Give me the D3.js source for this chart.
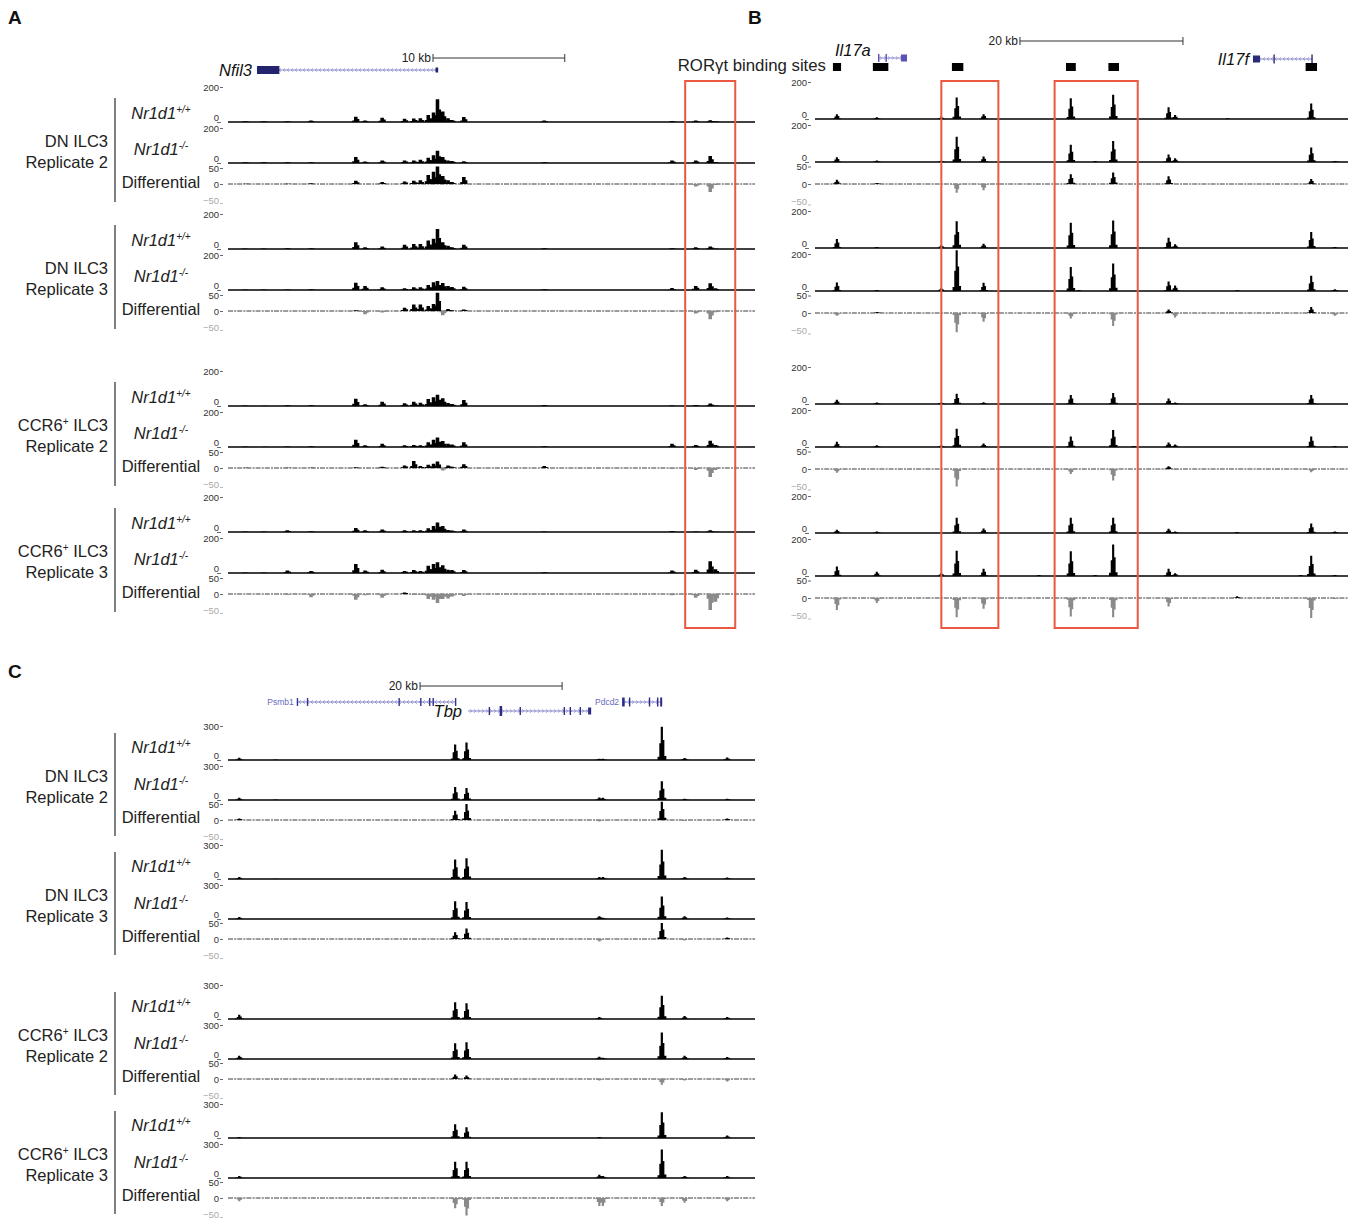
<!DOCTYPE html>
<html><head><meta charset="utf-8">
<script src="https://cdn.jsdelivr.net/npm/d3@7"></script>
<style>
body{margin:0;background:#fff}
svg{display:block}
text{font-family:"Liberation Sans",Arial,Helvetica,sans-serif}
</style>
</head><body>
<script>
// ---------------- DATA ----------------
const groupLine1 = ["DN ILC3", "DN ILC3", "CCR6+ ILC3", "CCR6+ ILC3"];
const groupLine2 = ["Replicate 2", "Replicate 3", "Replicate 2", "Replicate 3"];
const trackGenotype = ["+/+", "-/-"];
const diffLabel = "Differential";

// Panel A (Nfil3 locus): peak positions in kb
const lociA = [1.3,2.7,4.5,6.3,9.7,10.4,11.7,13.4,14.1,14.6,15.2,15.6,15.9,16.3,16.7,17.0,17.9,24.0,33.7,35.5,36.6,37.0];
const A_DN2_WT = [5,5,5,8,30,8,25,18,20,22,40,55,130,60,22,12,28,8,6,8,10,4];
const A_DN2_KO = [5,5,4,5,35,8,15,15,15,18,30,45,70,35,15,12,10,5,15,15,40,6];
const A_DN2_DF = [1,0,1,2,10,0,6,8,10,12,28,38,55,25,12,6,22,0,-2,-8,-25,-3];
const A_DN3_WT = [3,3,4,5,38,10,14,25,28,28,48,59,115,38,18,10,25,5,4,10,15,3];
const A_DN3_KO = [3,3,3,4,42,23,16,10,16,16,28,45,51,40,23,17,19,5,11,23,38,10];
const A_DN3_DF = [0,0,0,0,2,-10,-5,10,20,20,16,22,60,-13,6,2,5,0,-3,-8,-26,-4];
const A_C2_WT  = [3,2,4,4,42,10,25,16,25,18,40,50,65,45,17,12,34,6,3,6,15,3];
const A_C2_KO  = [3,2,3,4,42,10,19,10,12,10,27,42,55,35,18,15,27,4,18,12,36,12];
const A_C2_DF  = [1,0,1,1,2,0,4,8,22,6,10,13,20,-8,8,4,12,6,-3,-6,-28,-6];
const A_C3_WT  = [3,3,10,4,23,10,15,10,10,10,22,35,55,35,12,8,14,3,6,3,10,2];
const A_C3_KO  = [3,3,15,12,52,15,19,12,17,12,42,52,61,45,19,17,17,4,15,19,67,22];
const A_C3_DF  = [0,0,-3,-10,-18,-4,-12,5,-3,-2,-16,-18,-28,-16,-14,-8,-6,0,-4,-12,-50,-24];

// Panel B (Il17a / Il17f locus)
const lociB = [2.7,7.6,15.5,17.4,20.7,27.5,31.4,32.4,34.4,36.6,39.1,43.4,44.2,50.6,51.8,59.6,60.9,63.8];
const B_DN2_WT = [26,10,12,116,26,0,112,0,0,131,0,63,21,4,0,0,84,0];
const B_DN2_KO = [26,8,8,137,30,0,93,0,5,114,0,40,20,0,0,0,79,6];
const B_DN2_DF = [12,3,0,-25,-18,0,28,0,0,33,0,22,0,0,0,0,14,0];
const B_DN3_WT = [49,5,15,144,23,0,137,0,0,149,0,56,20,0,0,0,86,5];
const B_DN3_KO = [46,5,15,220,44,0,130,5,0,149,0,51,30,0,4,0,82,10];
const B_DN3_DF = [-8,3,0,-55,-25,0,-16,0,0,-37,0,10,-13,0,0,0,17,-8];
const B_C2_WT  = [23,8,10,55,10,0,49,0,0,60,0,30,8,0,0,0,49,0];
const B_C2_KO  = [28,10,10,99,19,0,57,0,0,92,5,25,13,0,0,0,57,5];
const B_C2_DF  = [-11,0,0,-50,-3,0,-14,0,0,-33,0,8,-3,0,0,0,-9,0];
const B_C3_WT  = [18,8,0,83,25,0,83,0,0,83,0,23,8,0,5,0,51,8];
const B_C3_KO  = [51,23,15,136,39,5,134,0,5,170,0,39,15,0,0,5,109,5];
const B_C3_DF  = [-34,-14,0,-55,-31,0,-53,0,0,-55,0,-24,0,0,5,0,-60,-3];
const rorgtStart = [2.2,7.1,16.8,30.8,36.0,60.2];
const rorgtEnd   = [3.2,9.0,18.2,32.0,37.3,61.6];

// Panel C (Tbp locus)
const lociC = [1.6,6.7,32.0,33.6,52.3,52.8,61.1,64.3,70.3];
const C_DN2_WT = [20,5,137,154,12,10,294,17,23];
const C_DN2_KO = [20,5,114,106,23,20,166,11,11];
const C_DN2_DF = [5,0,29,50,-5,0,60,-3,5];
const C_DN3_WT = [17,3,171,183,17,17,257,17,14];
const C_DN3_KO = [17,0,157,149,25,12,198,25,14];
const C_DN3_DF = [0,0,21,33,-8,0,50,-5,5];
const C_C2_WT  = [37,0,148,140,17,0,206,26,17];
const C_C2_KO  = [28,0,140,148,20,10,234,28,17];
const C_C2_DF  = [0,0,14,11,-5,0,-18,-5,-8];
const C_C3_WT  = [8,0,122,94,8,0,228,0,23];
const C_C3_KO  = [17,0,143,143,28,17,251,17,17];
const C_C3_DF  = [-10,0,-32,-55,-25,-25,-25,-15,-10];

// gene models (kb): transcript span and exon blocks [start, end]
const nfil3Span = [2.2,15.95];  const nfil3Exons = [[2.2,3.9],[15.75,15.95]];
const il17aSpan = [7.73,11.29]; const il17aExons = [[7.73,7.85],[8.65,8.77],[10.55,11.29]];
const il17fSpan = [53.74,61.0]; const il17fExons = [[53.74,54.6],[56.25,56.4],[60.9,61.0]];
const psmb1Span = [9.68,32.1];  const psmb1Exons = [[9.68,9.85],[11.1,11.25],[24.0,24.15],[27.05,27.2],[28.3,28.45],[28.8,28.95],[31.95,32.1]];
const tbpSpan   = [33.8,51.13]; const tbpExons   = [[36.7,36.85],[38.24,38.6],[41.05,41.2],[47.25,47.4],[48.1,48.25],[49.5,49.65],[50.7,51.13]];
const pdcd2Span = [55.49,61.13];const pdcd2Exons = [[55.49,55.85],[56.45,56.6],[59.25,59.4],[60.4,60.55],[60.85,61.13]];

// highlighted regions (kb)
const boxesA = [[34.7,38.5]];
const boxesB = [[15.5,22.5],[29.4,39.6]];

// ---------------- DRAW ----------------
const svg = d3.select("body").append("svg").attr("width",1356).attr("height",1221);

const kernelBlock = [[-1,0],[-1,0.3],[-0.5,0.3],[-0.5,1],[0.5,1],[0.5,0.55],[1,0.55],[1,0]];
const kernelSpike = [[-1,0],[-1,0.1],[-0.6,0.1],[-0.6,0.5],[-0.28,0.5],[-0.28,1],[0.22,1],[0.22,0.6],[0.55,0.6],[0.55,0.12],[1,0.12],[1,0]];

const panels = [
  {id:"A", loci:lociA, tracks:[[A_DN2_WT,A_DN2_KO,A_DN2_DF],[A_DN3_WT,A_DN3_KO,A_DN3_DF],[A_C2_WT,A_C2_KO,A_C2_DF],[A_C3_WT,A_C3_KO,A_C3_DF]],
   domain:[0,40], range:[228,755], max:200, sigH:35, diffH:16, g:[122,249,406,532], koOff:41, diffOff:62,
   halfW:0.27, kernel:kernelBlock, axisX:223,
   lab:{wt:-9,ko:27,df:60,g1:19,g2:40,b0:-24,b1:80}},
  {id:"B", loci:lociB, tracks:[[B_DN2_WT,B_DN2_KO,B_DN2_DF],[B_DN3_WT,B_DN3_KO,B_DN3_DF],[B_C2_WT,B_C2_KO,B_C2_DF],[B_C3_WT,B_C3_KO,B_C3_DF]],
   domain:[0,65.4], range:[815,1348], max:200, sigH:37, diffH:17.5, g:[119,248,404,533], koOff:43, diffOff:65,
   halfW:0.52, kernel:kernelSpike, axisX:811, lab:null},
  {id:"C", loci:lociC, tracks:[[C_DN2_WT,C_DN2_KO,C_DN2_DF],[C_DN3_WT,C_DN3_KO,C_DN3_DF],[C_C2_WT,C_C2_KO,C_C2_DF],[C_C3_WT,C_C3_KO,C_C3_DF]],
   domain:[0,74.2], range:[228,755], max:300, sigH:34, diffH:16, g:[760,879,1019,1138], koOff:40, diffOff:60,
   halfW:0.62, kernel:kernelSpike, axisX:223,
   lab:{wt:-13,ko:24,df:57,g1:16,g2:37,b0:-27,b1:76}}
];

const scales = {};

function styleAxis(ax){
  ax.select(".domain").remove();
  ax.selectAll("line").attr("stroke","#444").attr("stroke-width",0.8);
  ax.selectAll("text").attr("fill","#333").style("font-size","9.5px")
    .style("font-family",'"Liberation Sans",Arial,sans-serif');
}

panels.forEach(p => {
  const x = d3.scaleLinear().domain(p.domain).range(p.range);
  scales[p.id] = x;
  const root = svg.append("g").attr("class","panel-"+p.id);
  p.g.forEach((g0, gi) => {
    [0,1,2].forEach(ti => {
      const isDiff = ti === 2;
      const y0 = g0 + (ti===0 ? 0 : ti===1 ? p.koOff : p.diffOff);
      const vals = p.tracks[gi][ti];
      const y = isDiff
        ? d3.scaleLinear().domain([-50,50]).range([y0+p.diffH, y0-p.diffH])
        : d3.scaleLinear().domain([0,p.max]).range([y0, y0-p.sigH]);
      const lim = isDiff ? 57 : p.max*1.12;
      const tg = root.append("g");
      if (isDiff) {
        tg.append("line").attr("x1",p.range[0]).attr("x2",p.range[1]).attr("y1",y(0)).attr("y2",y(0))
          .attr("stroke","#3a3a3a").attr("stroke-width",1).attr("stroke-dasharray","5,1.2,2,1");
      }
      p.loci.forEach((loc, i) => {
        let v = vals[i];
        if (!v) return;
        v = Math.max(-lim, Math.min(lim, v));
        const pts = p.kernel.map(([dx,f]) => [x(loc+dx*p.halfW), y(v*f)]);
        tg.append("path").attr("d", d3.line()(pts)+"Z")
          .attr("fill", v < 0 ? "#8a8a8a" : "#000").attr("stroke","none");
      });
      if (!isDiff) {
        tg.append("line").attr("x1",p.range[0]).attr("x2",p.range[1]).attr("y1",y(0)).attr("y2",y(0))
          .attr("stroke","#000").attr("stroke-width",1.5);
      }
      const ax = tg.append("g").attr("transform",`translate(${p.axisX},0)`)
        .call(d3.axisLeft(y).tickValues(isDiff ? [-50,0,50] : [0,p.max]).tickSize(3).tickPadding(1).tickFormat(d3.format("d")));
      styleAxis(ax);
      if (isDiff) {
        ax.selectAll(".tick").filter(d => d === -50).selectAll("text").attr("fill","#aaa");
        ax.selectAll(".tick").filter(d => d === -50).select("line").attr("stroke","#aaa").attr("transform","translate(0,3)");
      } else {
        ax.selectAll(".tick").filter(d => d === 0).select("text").attr("dy","-0.15em");
        ax.selectAll(".tick").filter(d => d === 0).select("line").attr("x2",-4).attr("x1",0).attr("transform","translate(-2,0)");
      }
      if (p.lab) {
        const ly = g0 + (ti===0 ? p.lab.wt : ti===1 ? p.lab.ko : p.lab.df) + 6;
        const t = root.append("text").attr("x",161).attr("y",ly).attr("text-anchor","middle")
          .style("font-size","16.5px").attr("fill","#222");
        if (isDiff) t.text(diffLabel);
        else {
          t.append("tspan").style("font-style","italic").text("Nr1d1");
          t.append("tspan").style("font-style","italic").style("font-size","10px").attr("dy","-6").text(trackGenotype[ti]);
        }
      }
    });
    if (p.lab) {
      const l1 = groupLine1[gi];
      const t1 = root.append("text").attr("x",108).attr("y",g0+p.lab.g1+6).attr("text-anchor","end")
        .style("font-size","16.5px").attr("fill","#222");
      if (l1.indexOf("+") >= 0) {
        const parts = l1.split("+");
        t1.append("tspan").text(parts[0]);
        t1.append("tspan").style("font-size","10px").attr("dy","-6").text("+");
        t1.append("tspan").attr("dy","6").text(parts[1]);
      } else t1.text(l1);
      root.append("text").attr("x",108).attr("y",g0+p.lab.g2+6).attr("text-anchor","end")
        .style("font-size","16.5px").attr("fill","#222").text(groupLine2[gi]);
      root.append("line").attr("x1",115).attr("x2",115).attr("y1",g0+p.lab.b0).attr("y2",g0+p.lab.b1)
        .attr("stroke","#555").attr("stroke-width",1.5);
    }
  });
});

function drawBoxes(x, boxes){
  boxes.forEach(b => svg.append("rect").attr("x",x(b[0])).attr("y",81).attr("width",x(b[1])-x(b[0])).attr("height",547)
    .attr("fill","none").attr("stroke","#ea5840").attr("stroke-width",2));
}
drawBoxes(scales.A, boxesA);
drawBoxes(scales.B, boxesB);

function scaleBar(x, startKb, lenKb, y, label){
  const g = svg.append("g");
  const x0 = x(startKb), x1 = x(startKb+lenKb);
  g.append("line").attr("x1",x0).attr("x2",x1).attr("y1",y).attr("y2",y).attr("stroke","#333").attr("stroke-width",1);
  [x0,x1].forEach(xx => g.append("line").attr("x1",xx).attr("x2",xx).attr("y1",y-4).attr("y2",y+4).attr("stroke","#333").attr("stroke-width",1));
  g.append("text").attr("x",x0-2).attr("y",y+4).attr("text-anchor","end").style("font-size","12px").attr("fill","#222").text(label);
}
scaleBar(scales.A, 15.56, 10, 58, "10 kb");
scaleBar(scales.B, 25.15, 20, 41, "20 kb");
scaleBar(scales.C, 27.04, 20, 686, "20 kb");

function gene(x, span, exons, y, strand, lineColor, exonColor, exonH){
  const g = svg.append("g");
  const s = x(span[0]), e = x(span[1]);
  g.append("line").attr("x1",s).attr("x2",e).attr("y1",y).attr("y2",y).attr("stroke",lineColor).attr("stroke-width",1);
  const dir = strand === "+" ? 1 : -1;
  for (let px = s+3; px < e-2; px += 4) {
    g.append("path").attr("d",`M${px-1.2*dir},${y-1.8} L${px+0.8*dir},${y} L${px-1.2*dir},${y+1.8}`)
      .attr("fill","none").attr("stroke",lineColor).attr("stroke-width",0.7);
  }
  exons.forEach((ex,i) => {
    const w = Math.max(1.4, x(ex[1])-x(ex[0]));
    const h = Array.isArray(exonH) ? exonH[i] : exonH;
    g.append("rect").attr("x",x(ex[0])).attr("y",y-h/2).attr("width",w).attr("height",h).attr("fill",exonColor);
  });
}
function glabel(xp, y, txt, size, italic, color, anchor){
  svg.append("text").attr("x",xp).attr("y",y).attr("text-anchor",anchor||"end")
    .style("font-size",size+"px").style("font-style",italic?"italic":"normal").attr("fill",color).text(txt);
}
gene(scales.A, nfil3Span, nfil3Exons, 70, "-", "#8484c8", "#24246e", [8,5]);
glabel(scales.A(nfil3Span[0])-5, 76, "Nfil3", 16.5, true, "#111");
gene(scales.B, il17aSpan, il17aExons, 58, "+", "#8a86d0", "#5a52b4", [8,8,7]);
glabel(835, 56, "Il17a", 16.5, true, "#111", "start");
gene(scales.B, il17fSpan, il17fExons, 59, "-", "#8484c8", "#2a2a78", [7,9,9]);
glabel(scales.B(il17fSpan[0])-4, 65, "Il17f", 16.5, true, "#111");
svg.append("text").attr("x",826).attr("y",71).attr("text-anchor","end").style("font-size","16.8px").attr("fill","#222").text("RORγt binding sites");
rorgtStart.forEach((s,i) => svg.append("rect").attr("x",scales.B(s)).attr("y",63)
  .attr("width",scales.B(rorgtEnd[i])-scales.B(s)).attr("height",8).attr("fill","#000"));
gene(scales.C, psmb1Span, psmb1Exons, 702, "-", "#8484c8", "#34349a", 8);
glabel(scales.C(psmb1Span[0])-3, 705, "Psmb1", 8.5, false, "#6a6ac0");
gene(scales.C, tbpSpan, tbpExons, 711, "+", "#8484c8", "#2c2c88", [8,10,8,8,8,8,7]);
glabel(scales.C(tbpSpan[0])-6, 717, "Tbp", 16.5, true, "#111");
gene(scales.C, pdcd2Span, pdcd2Exons, 702, "+", "#8484c8", "#2c2c88", 9);
glabel(scales.C(pdcd2Span[0])-3, 705, "Pdcd2", 8.5, false, "#6a6ac0");

[["A",8,24],["B",748,24],["C",8,678]].forEach(([t,xx,yy]) =>
  svg.append("text").attr("x",xx).attr("y",yy).style("font-size","19px").style("font-weight","bold").attr("fill","#111").text(t));
</script>
</body></html>
